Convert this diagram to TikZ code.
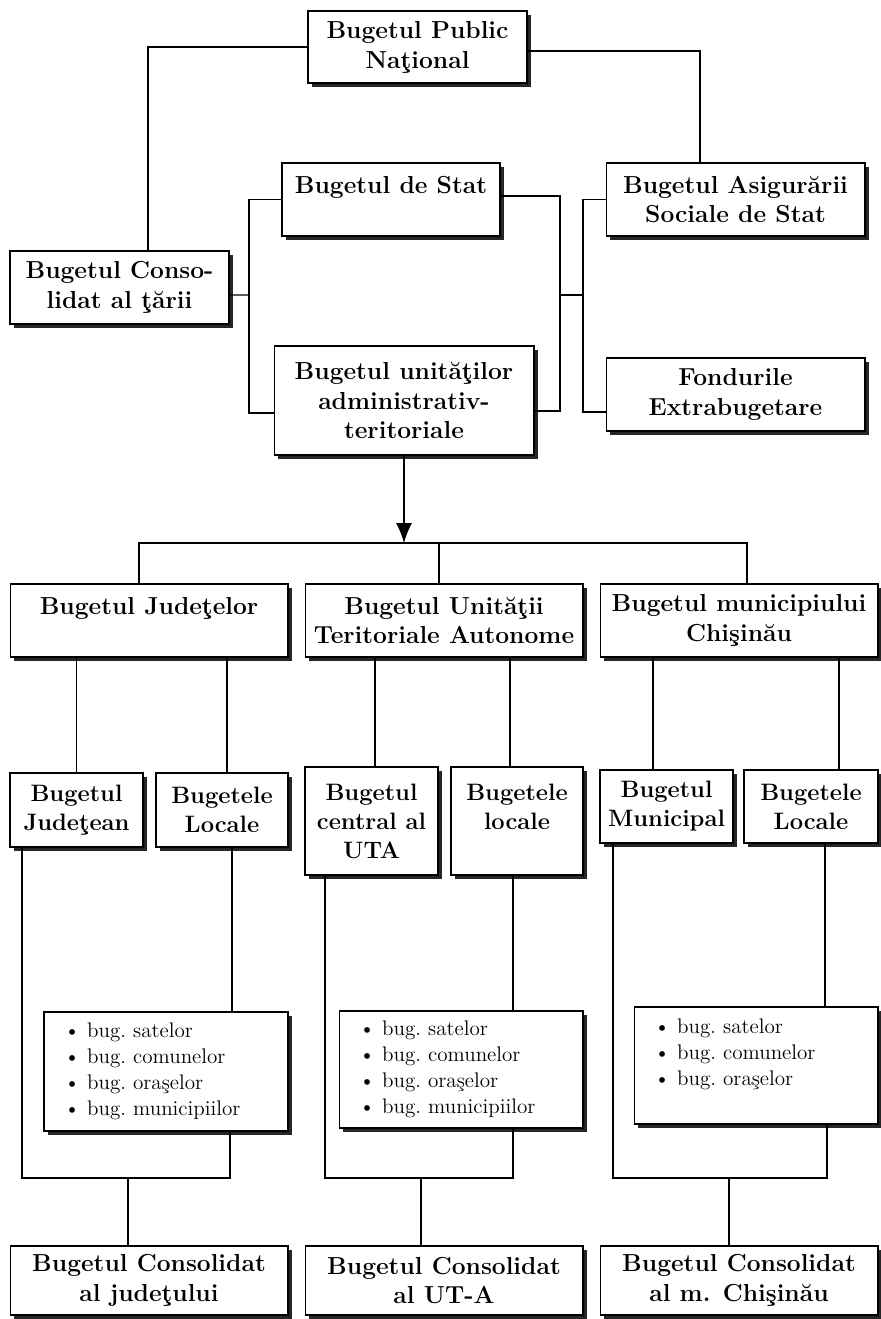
\documentclass[tikz,border=0pt]{standalone}
\usepackage{fontspec}
\usetikzlibrary{arrows.meta,shadows}

\tikzset{
  bugbox/.style={draw, fill=white, line width=0.6pt, align=center, inner sep=2pt,
    font=\bfseries\fontsize{14}{17}\selectfont,
    drop shadow={shadow xshift=0.08cm, shadow yshift=-0.08cm, fill=black!85, opacity=1}},
  smallbox/.style={bugbox, font=\bfseries\fontsize{13.5}{16.5}\selectfont},
  listbox/.style={bugbox, font=\frenchspacing\fontsize{12}{14.8}\selectfont, align=left,
    text width=4.08cm, inner xsep=0.4cm},
  boxsize/.style 2 args={minimum width=#1, minimum height=#2},
  link/.style={line width=0.6pt}
}

\begin{document}
\begin{tikzpicture}[x=0.02cm, y=-0.02cm]
\useasboundingbox (0,0) rectangle (881,1319);

% upper part
\node[bugbox, boxsize={4.38cm}{1.44cm}] (nat) at (417.5,47) {Bugetul Public\\Naţional};
\node[bugbox, boxsize={4.36cm}{1.46cm}] (stat) at (391,199.5) {Bugetul de Stat\\~};
\node[bugbox, boxsize={5.18cm}{1.46cm}] (asig) at (735.5,199.5) {Bugetul Asigurării\\Sociale de Stat};
\node[bugbox, boxsize={4.38cm}{1.46cm}] (cons) at (119.5,287.5) {Bugetul Conso-\\lidat al ţării};
\node[bugbox, boxsize={5.2cm}{2.18cm}] (uat) at (404,400.5) {Bugetul unităţilor\\administrativ-\\teritoriale};
\node[bugbox, boxsize={5.18cm}{1.46cm}] (fond) at (735.5,394.5) {Fondurile\\Extrabugetare};

\coordinate (lb) at (249,295);
\coordinate (rb) at (560,295);
\coordinate (rb2) at (583,295);
\coordinate (hub) at (404,543);

\draw[link] (nat.west) -| ([xshift=0.57cm]cons.north);
\draw[link] ([yshift=-0.08cm]nat.east) -| ([xshift=-0.71cm]asig.north);
\draw[link] ([yshift=-0.15cm]cons.east) -- (lb);
\draw[link] (stat.west) -| (lb) |- ([yshift=-0.25cm]uat.west);
\draw[link] ([yshift=0.07cm]stat.east) -| (rb) |- ([yshift=-0.21cm]uat.east);
\draw[link] (rb) -- (rb2);
\draw[link] (asig.west) -| (rb2) |- ([yshift=-0.35cm]fond.west);
\draw[link, -{Latex[length=0.4cm,width=0.32cm]}] (uat.south) -- (hub);

% second row
\node[bugbox, boxsize={5.56cm}{1.46cm}] (jud) at (149,620.5) {Bugetul Judeţelor\\~};
\node[bugbox, boxsize={5.56cm}{1.46cm}] (uta) at (444,620.5) {Bugetul Unităţii\\Teritoriale Autonome};
\node[bugbox, boxsize={5.56cm}{1.46cm}] (chis) at (739,620.5) {Bugetul municipiului\\Chişinău};

\draw[link] ([xshift=-0.2cm]jud.north) |- (hub) -| ([xshift=0.16cm]chis.north);
\draw[link] ([xshift=-0.1cm]uta.north) -- ++(0,0.82cm);

% third row
\node[smallbox, boxsize={2.66cm}{1.48cm}] (judtean) at (76.5,810) {Bugetul\\Judeţean};
\node[smallbox, boxsize={2.64cm}{1.48cm}] (judloc) at (222,810) {Bugetele\\Locale};
\node[smallbox, boxsize={2.66cm}{2.16cm}] (utacen) at (371.5,821) {Bugetul\\central al\\UTA};
\node[smallbox, boxsize={2.64cm}{2.16cm}] (utaloc) at (517,821) {Bugetele\\locale\\~};
\node[smallbox, boxsize={2.66cm}{1.46cm}] (mun) at (666.5,806.5) {Bugetul\\Municipal};
\node[smallbox, boxsize={2.68cm}{1.46cm}] (munloc) at (811,806.5) {Bugetele\\Locale};

\draw[link] (judtean.north) -- ++(0,2.32cm);
\draw[link] ([xshift=0.1cm]judloc.north) -- ++(0,2.32cm);
\draw[link] ([xshift=0.07cm]utacen.north) -- ++(0,2.2cm);
\draw[link] ([xshift=-0.14cm]utaloc.north) -- ++(0,2.2cm);
\draw[link] ([xshift=-0.27cm]mun.north) -- ++(0,2.26cm);
\draw[link] ([xshift=0.56cm]munloc.north) -- ++(0,2.26cm);

% lists
\node[listbox, minimum height=2.38cm] (list1) at (166,1071.5) {\textbullet\ bug. satelor\\\textbullet\ bug. comunelor\\\textbullet\ bug. oraşelor\\\textbullet\ bug. municipiilor};
\node[listbox, minimum height=2.34cm] (list2) at (461,1069.5) {\textbullet\ bug. satelor\\\textbullet\ bug. comunelor\\\textbullet\ bug. oraşelor\\\textbullet\ bug. municipiilor};
\node[listbox, minimum height=2.34cm] (list3) at (756,1065.5) {\textbullet\ bug. satelor\\\textbullet\ bug. comunelor\\\textbullet\ bug. oraşelor\\~};

% consolidated budgets
\node[bugbox, boxsize={5.56cm}{1.38cm}] (cj) at (149,1280.5) {Bugetul Consolidat\\al judeţului};
\node[bugbox, boxsize={5.56cm}{1.38cm}] (cu) at (444,1280.5) {Bugetul Consolidat\\al UT-A};
\node[bugbox, boxsize={5.56cm}{1.38cm}] (cc) at (739,1280.5) {Bugetul Consolidat\\al m. Chişinău};

\coordinate (mj) at (128,1178);
\coordinate (mu) at (421,1178);
\coordinate (mc) at (729,1178);

\draw[link] ([xshift=0.2cm]judloc.south) -- ++(0,-3.3cm);
\draw[link] ([xshift=-1.09cm]judtean.south) |- (mj) -| ([xshift=1.28cm]list1.south);
\draw[link] (mj) -- (cj.north -| mj);

\draw[link] ([xshift=-0.08cm]utaloc.south) -- ++(0,-2.72cm);
\draw[link] ([xshift=-0.93cm]utacen.south) |- (mu) -| ([xshift=1.04cm]list2.south);
\draw[link] (mu) -- (cu.north -| mu);

\draw[link] ([xshift=0.28cm]munloc.south) -- ++(0,-3.28cm);
\draw[link] ([xshift=-1.07cm]mun.south) |- (mc) -| ([xshift=1.42cm]list3.south);
\draw[link] (mc) -- (cc.north -| mc);
\end{tikzpicture}
\end{document}
